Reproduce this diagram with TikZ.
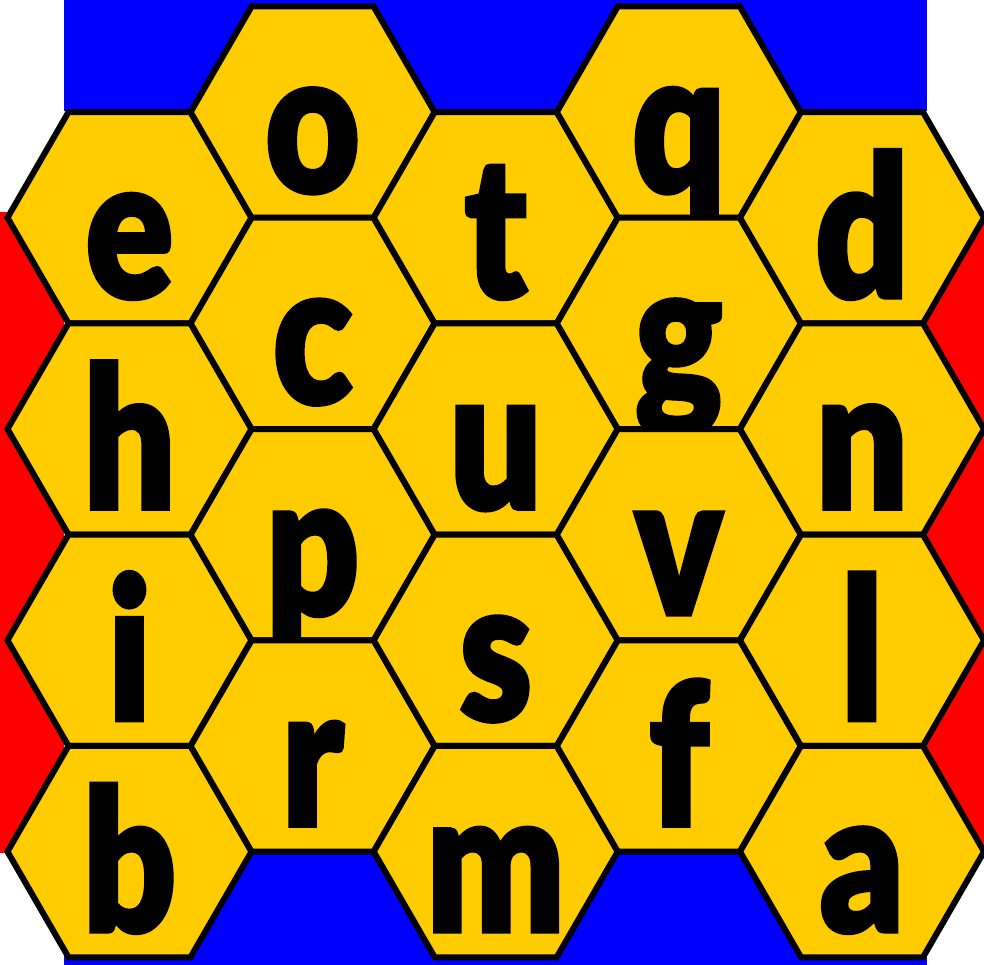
\documentclass[tikz,border=0pt]{standalone}
\usepackage{fontspec}
\usepackage{graphicx}
\usetikzlibrary{shapes.geometric}
\IfFontExistsTF{Lato-Black.ttf}
  {\newfontfamily\hexfont{Lato-Black.ttf}[FakeBold=2]}
  {\newfontfamily\hexfont{Fira Sans Bold}[FakeBold=3]}
\definecolor{hexyellow}{HTML}{FFCC00}
\definecolor{sideblue}{HTML}{0000FF}
\definecolor{sidered}{HTML}{FF0000}
\tikzset{
  hexcell/.style={regular polygon, regular polygon sides=6, minimum size=244pt,
    inner sep=0pt, outer sep=0pt, fill=hexyellow, draw=black, line width=6pt, line join=miter},
  letter/.style={anchor=base, inner sep=0pt, text=black,
    font={\hexfont\fontsize{190pt}{190pt}\selectfont}},
}
\newcommand\hexat[3]{%
  \node[hexcell] (h#1) at (#2,#3) {};
  \node[letter] (l#1) at (#2,#3+80) {\scalebox{0.86}[1.04]{#1}};
}
\begin{document}
\begin{tikzpicture}[x=1pt,y=-1pt]
\useasboundingbox (0,0) rectangle (984,965);
\fill[sideblue] (64,0) rectangle (927,111);
\fill[sideblue] (64,853) rectangle (927,965);
\fill[sidered] (0,212) rectangle (64,853);
\fill[sidered] (927,212) rectangle (984,853);
% column 1
\hexat{e}{129.5}{217.7}
\hexat{h}{129.5}{429.0}
\hexat{i}{129.5}{640.3}
\hexat{b}{129.5}{851.6}
% column 2
\hexat{o}{312.6}{112.1}
\hexat{c}{312.6}{323.4}
\hexat{p}{312.6}{534.7}
\hexat{r}{312.6}{746.0}
% column 3
\hexat{t}{495.7}{217.7}
\hexat{u}{495.7}{429.0}
\hexat{s}{495.7}{640.3}
\hexat{m}{495.7}{851.6}
% column 4
\hexat{q}{678.8}{112.1}
\hexat{g}{678.8}{323.4}
\hexat{v}{678.8}{534.7}
\hexat{f}{678.8}{746.0}
% column 5
\hexat{d}{862.0}{217.7}
\hexat{n}{862.0}{429.0}
\hexat{l}{862.0}{640.3}
\hexat{a}{862.0}{851.6}
\end{tikzpicture}
\end{document}
